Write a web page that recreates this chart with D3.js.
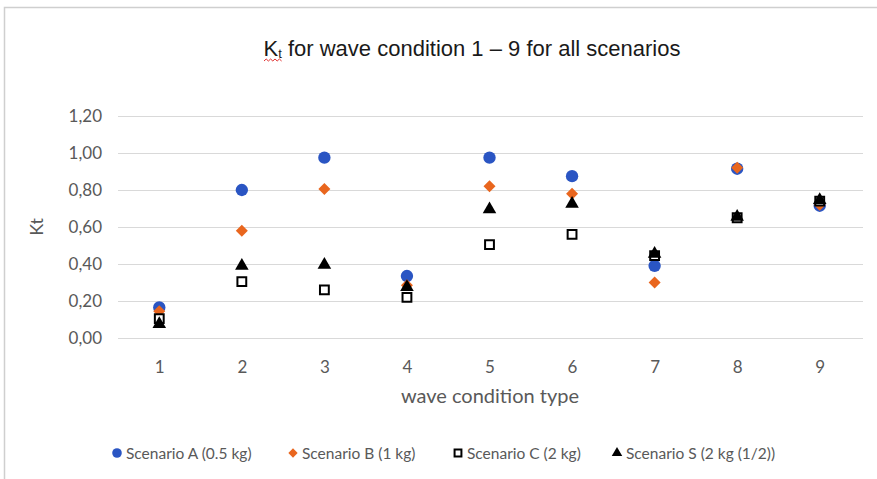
<!DOCTYPE html>
<html>
<head>
<meta charset="utf-8">
<script src="https://cdn.jsdelivr.net/npm/d3@7"></script>
<style>
  body { margin: 0; background: #fff; }
  svg { display: block; }
</style>
</head>
<body>
<script>
// data
const conditions = [1, 2, 3, 4, 5, 6, 7, 8, 9];
const scenarioA = [0.165, 0.80, 0.975, 0.335, 0.975, 0.875, 0.39, 0.915, 0.715];
const scenarioB = [0.145, 0.58, 0.805, 0.285, 0.82, 0.78, 0.30, 0.92, 0.72];
const scenarioC = [0.105, 0.305, 0.26, 0.22, 0.505, 0.56, 0.445, 0.65, 0.74];
const scenarioS = [0.075, 0.39, 0.395, 0.275, 0.695, 0.725, 0.455, 0.655, 0.745];
const yTicks = [0, 0.2, 0.4, 0.6, 0.8, 1.0, 1.2];
const seriesNames = ['Scenario A (0.5 kg)', 'Scenario B (1 kg)', 'Scenario C (2 kg)', 'Scenario S (2 kg (1/2))'];

const W = 877, H = 479;
const svg = d3.select('body').append('svg')
    .attr('width', W)
    .attr('height', H);

// chart frame (cropped on the right and bottom in the original)
svg.append('path')
    .attr('d', `M4.5,${H} V7.5 H${W}`)
    .attr('fill', 'none')
    .attr('stroke', '#cfcfcf')
    .attr('stroke-width', 1.5);

const x = d3.scalePoint()
    .domain(conditions)
    .range([118, 861])
    .padding(0.5);

const y = d3.scaleLinear()
    .domain([0, 1.2])
    .range([338, 116]);

// gridlines
svg.append('g')
  .selectAll('line')
    .data(yTicks)
    .enter()
  .append('line')
    .attr('x1', 118)
    .attr('x2', 863)
    .attr('y1', d => Math.round(y(d)) + 0.5)
    .attr('y2', d => Math.round(y(d)) + 0.5)
    .attr('stroke', '#d9d9d9')
    .attr('stroke-width', 1.2);

const fmt = d => d3.format('.2f')(d).replace('.', ',');
const lab = 'Lato, "Open Sans", sans-serif';

// y axis
const yAxis = svg.append('g')
    .attr('transform', 'translate(112,0)')
    .call(d3.axisLeft(y).tickValues(yTicks).tickFormat(fmt).tickSize(0).tickPadding(10));
yAxis.select('.domain').remove();
yAxis.selectAll('text')
    .attr('font-family', lab)
    .attr('font-size', 17)
    .attr('fill', '#595959');

// x axis
const xAxis = svg.append('g')
    .attr('transform', 'translate(0,355)')
    .call(d3.axisBottom(x).tickSize(0).tickPadding(6));
xAxis.select('.domain').remove();
xAxis.selectAll('text')
    .attr('font-family', lab)
    .attr('font-size', 17)
    .attr('fill', '#595959');

// axis titles
svg.append('text')
    .attr('transform', 'translate(43,227) rotate(-90)')
    .attr('text-anchor', 'middle')
    .attr('font-family', lab)
    .attr('font-size', 18)
    .attr('fill', '#595959')
    .text('Kt');

svg.append('text')
    .attr('x', 490)
    .attr('y', 403)
    .attr('text-anchor', 'middle')
    .attr('font-family', lab)
    .attr('font-size', 20)
    .attr('fill', '#595959')
    .text('wave condition type');

// title
const title = svg.append('text')
    .attr('x', 472)
    .attr('y', 56)
    .attr('text-anchor', 'middle')
    .attr('font-family', '"Liberation Sans", Arial, sans-serif')
    .attr('font-size', 22)
    .attr('fill', '#1a1a1a');
title.append('tspan').text('K');
title.append('tspan').attr('font-size', 13).attr('dy', 2).text('t');
title.append('tspan').attr('dy', -2).text(' for wave condition 1 \u2013 9 for all scenarios');

// spell-check squiggle under "Kt"
const squiggle = d3.range(0, 9).map(i => [264 + i * 2.2, i % 2 ? 59 : 61]);
svg.append('path')
    .attr('d', d3.line()(squiggle))
    .attr('fill', 'none')
    .attr('stroke', '#e03030')
    .attr('stroke-width', 1);

// markers
const series = [
  { name: seriesNames[0], values: scenarioA, type: d3.symbolCircle, size: 120, fill: '#2a55c3', stroke: 'none', rot: 0 },
  { name: seriesNames[1], values: scenarioB, type: d3.symbolSquare, size: 72, fill: '#e9661e', stroke: 'none', rot: 45 },
  { name: seriesNames[2], values: scenarioC, type: d3.symbolSquare, size: 78, fill: '#ffffff', stroke: '#000', rot: 0 },
  { name: seriesNames[3], values: scenarioS, type: d3.symbolTriangle, size: 80, fill: '#000', stroke: 'none', rot: 0 }
];

series.forEach(s => {
  svg.append('g')
    .selectAll('path')
      .data(s.values)
      .enter()
    .append('path')
      .attr('d', d3.symbol().type(s.type).size(s.size))
      .attr('transform', (d, i) => `translate(${x(conditions[i])},${y(d)}) rotate(${s.rot})`)
      .attr('fill', s.fill)
      .attr('stroke', s.stroke)
      .attr('stroke-width', 2);
});

// legend
const legendX = [117, 293, 458, 617];
const leg = svg.append('g')
  .selectAll('g')
    .data(series)
    .enter()
  .append('g')
    .attr('transform', (d, i) => `translate(${legendX[i]},453)`);

leg.append('path')
    .attr('d', d => d3.symbol().type(d.type).size(d.size * 0.6)())
    .attr('transform', d => `rotate(${d.rot})`)
    .attr('fill', d => d.fill)
    .attr('stroke', d => d.stroke)
    .attr('stroke-width', 2);

leg.append('text')
    .attr('x', 9)
    .attr('y', 5.5)
    .attr('font-family', lab)
    .attr('font-size', 15.5)
    .attr('fill', '#595959')
    .text(d => d.name);
</script>
</body>
</html>
